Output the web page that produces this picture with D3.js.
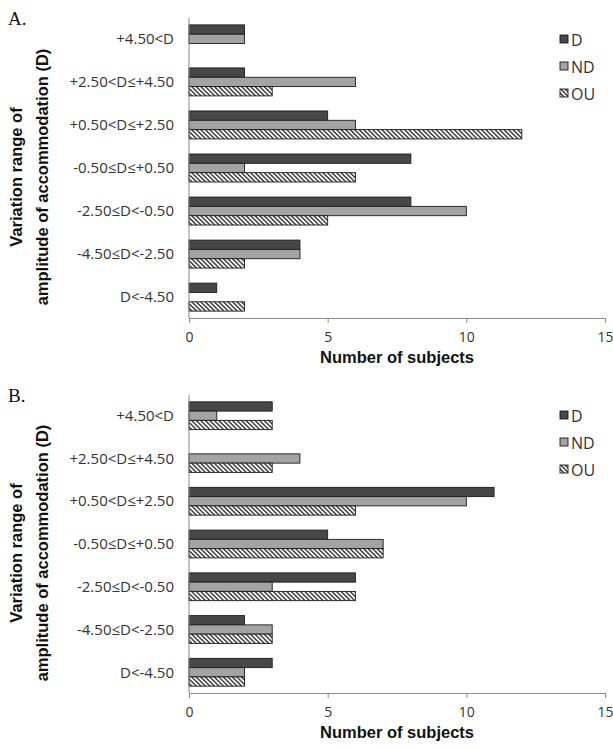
<!DOCTYPE html>
<html>
<head>
<meta charset="utf-8">
<script src="https://cdn.jsdelivr.net/npm/d3@7"></script>
<style>
  body { margin: 0; background: #fff; }
  text { font-family: "Open Sans", "DejaVu Sans", sans-serif; }
</style>
</head>
<body>
<svg id="chart" width="613" height="749"></svg>
<script>
const categories = ['+4.50<D', '+2.50<D≤+4.50', '+0.50<D≤+2.50', '-0.50≤D≤+0.50',
                    '-2.50≤D<-0.50', '-4.50≤D<-2.50', 'D<-4.50'];
const seriesNames = ['D', 'ND', 'OU'];
const xTicks = [0, 5, 10, 15];

// panel A
const aD  = [2, 2, 5, 8, 8, 4, 1];
const aND = [2, 6, 6, 2, 10, 4, 0];
const aOU = [0, 3, 12, 6, 5, 2, 2];
// panel B
const bD  = [3, 0, 11, 5, 6, 2, 3];
const bND = [1, 4, 10, 7, 3, 3, 2];
const bOU = [3, 3, 6, 7, 6, 3, 2];

const svg = d3.select('#chart');

const defs = svg.append('defs');
const hatch = defs.append('pattern')
  .attr('id', 'hatch')
  .attr('patternUnits', 'userSpaceOnUse')
  .attr('width', 3.2).attr('height', 3.2)
  .attr('patternTransform', 'rotate(-45)');
hatch.append('rect').attr('width', 3.2).attr('height', 3.2).attr('fill', '#fff');
hatch.append('line')
  .attr('x1', 0.8).attr('y1', 0).attr('x2', 0.8).attr('y2', 3.2)
  .attr('stroke', '#111').attr('stroke-width', 1.2);

const fills = { D: '#474747', ND: '#a3a3a3', OU: 'url(#hatch)' };

const x = d3.scaleLinear().domain([0, 15]).range([189, 605]);

function drawPanel(letter, series, top, bottom, legendY) {
  const g = svg.append('g');

  const y = d3.scaleBand().domain(categories).range([top, bottom])
    .paddingInner(0.35).paddingOuter(0.16);
  const y1 = d3.scaleBand().domain(seriesNames).range([0, y.bandwidth()]);

  g.append('text')
    .attr('x', 8).attr('y', top + 7)
    .style('font-family', '"Liberation Serif", serif')
    .attr('font-size', 19)
    .attr('fill', '#111')
    .text(letter);

  const rows = categories.map((c, i) => ({ cat: c, vals: seriesNames.map((s, j) => ({ s, v: series[j][i] })) }));

  const groups = g.selectAll('g.cat')
    .data(rows)
    .join('g')
      .attr('class', 'cat')
      .attr('transform', d => `translate(0,${y(d.cat)})`);

  groups.selectAll('rect')
    .data(d => d.vals.filter(v => v.v > 0))
    .join('rect')
      .attr('x', x(0))
      .attr('y', d => y1(d.s))
      .attr('width', d => x(d.v) - x(0))
      .attr('height', y1.bandwidth())
      .attr('fill', d => fills[d.s])
      .attr('stroke', '#1a1a1a')
      .attr('stroke-width', 0.9);

  // category labels
  g.selectAll('text.cat')
    .data(categories)
    .join('text')
      .attr('class', 'cat')
      .attr('x', 174)
      .attr('y', d => y(d) + y.bandwidth() / 2)
      .attr('dy', '0.35em')
      .attr('text-anchor', 'end')
      .attr('font-size', 15)
      .attr('fill', '#333')
      .text(d => d);

  // y axis line
  g.append('line')
    .attr('x1', x(0)).attr('x2', x(0))
    .attr('y1', top).attr('y2', bottom)
    .attr('stroke', '#8a8a8a');

  // x axis
  const xAxis = g.append('g')
    .attr('transform', `translate(0,${bottom})`)
    .call(d3.axisBottom(x).tickValues(xTicks).tickSize(5).tickPadding(9));
  xAxis.select('.domain').attr('stroke', '#8a8a8a');
  xAxis.selectAll('.tick line').attr('stroke', '#8a8a8a');
  xAxis.selectAll('.tick text')
    .attr('font-size', 14)
    .attr('fill', '#333')
    .style('font-family', '"Open Sans", sans-serif');

  g.append('text')
    .attr('x', (x(0) + x(15)) / 2)
    .attr('y', bottom + 45)
    .attr('text-anchor', 'middle')
    .attr('font-size', 16.5)
    .attr('font-weight', 'bold')
    .style('font-family', '"Liberation Sans", Arial, sans-serif')
    .attr('fill', '#111')
    .text('Number of subjects');

  // y axis title
  const cy = (top + bottom) / 2 + 9;
  const yt = g.append('text')
    .attr('transform', `translate(0,${cy}) rotate(-90)`)
    .attr('text-anchor', 'middle')
    .attr('font-size', 16.5)
    .attr('font-weight', 'bold')
    .style('font-family', '"Liberation Sans", Arial, sans-serif')
    .attr('fill', '#111');
  yt.append('tspan').attr('x', 0).attr('y', 22).text('Variation range of');
  yt.append('tspan').attr('x', 0).attr('y', 48).text('amplitude of accommodation  (D)');

  // legend
  const leg = g.selectAll('g.leg')
    .data(seriesNames)
    .join('g')
      .attr('class', 'leg')
      .attr('transform', (d, i) => `translate(560,${legendY + i * 27})`);
  leg.append('rect')
    .attr('x', 0).attr('y', -5)
    .attr('width', 8).attr('height', 8)
    .attr('fill', d => fills[d])
    .attr('stroke', '#1a1a1a')
    .attr('stroke-width', 0.9);
  leg.append('text')
    .attr('x', 11).attr('y', 0)
    .attr('dy', '0.38em')
    .attr('font-size', 16)
    .attr('fill', '#333')
    .text(d => d);
}

drawPanel('A.', [aD, aND, aOU], 18, 318, 40);
drawPanel('B.', [bD, bND, bOU], 395, 693, 416);
</script>
</body>
</html>
